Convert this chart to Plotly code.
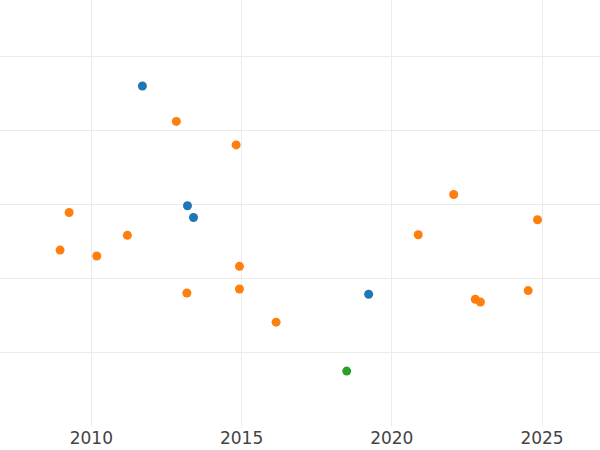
import plotly.graph_objects as go

blue_x = [2011.70, 2013.20, 2013.40, 2019.23]
blue_y = [4.605, 2.983, 2.824, 1.784]

orange_x = [2012.83, 2014.82, 2009.26, 2008.96, 2010.18, 2011.20, 2014.93, 2013.18,
            2014.93, 2016.15, 2020.88, 2022.06, 2024.85, 2022.78, 2022.95, 2024.54]
orange_y = [4.126, 3.807, 2.892, 2.383, 2.302, 2.582, 2.163, 1.802,
            1.856, 1.406, 2.591, 3.136, 2.794, 1.717, 1.680, 1.834]

green_x = [2018.50]
green_y = [0.744]

fig = go.Figure()
for xs, ys, c in [(blue_x, blue_y, "#1f77b4"), (orange_x, orange_y, "#ff7f0e"), (green_x, green_y, "#2ca02c")]:
    fig.add_trace(go.Scatter(x=xs, y=ys, mode="markers",
                             marker=dict(color=c, size=9), showlegend=False))

fig.update_layout(
    width=600, height=450,
    margin=dict(l=0, r=0, t=0, b=24),
    paper_bgcolor="white", plot_bgcolor="white",
    font=dict(family="DejaVu Sans", size=17, color="#444444"),
    xaxis=dict(range=[2006.96, 2026.93], tick0=2010, dtick=5, showgrid=True,
               gridcolor="#ebebeb", gridwidth=1, zeroline=False, showline=False,
               ticks=""),
    yaxis=dict(range=[0.0, 5.77], tick0=0, dtick=1, showgrid=True,
               gridcolor="#ebebeb", gridwidth=1, zeroline=False, showline=False,
               showticklabels=False, ticks=""),
)
fig.write_html("out.html", config={"displayModeBar": False},
               post_script="document.body.style.margin='0';")
